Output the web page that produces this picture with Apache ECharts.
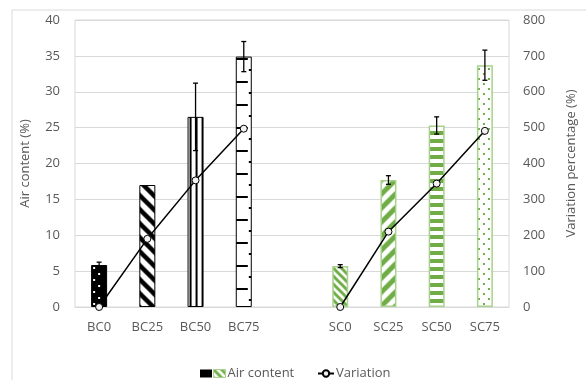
<!DOCTYPE html>
<html><head><meta charset="utf-8">
<script src="https://cdn.jsdelivr.net/npm/echarts@6/dist/echarts.min.js"></script>
<style>html,body{margin:0;padding:0;background:#fff}#c{width:586px;height:380px}</style>
</head><body><div id="c"></div>
<script>
// ---- data ----
const categories = ['BC0','BC25','BC50','BC75','','SC0','SC25','SC50','SC75'];
const bcCats = ['BC0','BC25','BC50','BC75'];
const scCats = ['SC0','SC25','SC50','SC75'];
const bcAir = [5.85, 17.0, 26.5, 34.9];
const scAir = [5.7, 17.7, 25.3, 33.7];
const bcErr = [0.4, 0, 4.7, 2.1];
const scErr = [0.2, 0.6, 1.2, 2.1];
const bcVariation = [0, 190, 353, 497];
const scVariation = [0, 210, 344, 491];
const leftTicks = {min:0, max:40, interval:5};
const rightTicks = {min:0, max:800, interval:100};

// ---- patterns ----
const GREEN = '#70ad47', GREEN_LIGHT = '#a9d18e';
function pat(w,h,fn){const c=document.createElement('canvas');c.width=w;c.height=h;const g=c.getContext('2d');g.fillStyle='#fff';g.fillRect(0,0,w,h);fn(g,w,h);return c;}
function diag(g,s,color,lw,up){g.strokeStyle=color;g.lineWidth=lw;g.lineCap='square';for(let k=-1;k<=1;k++){g.beginPath();if(up){g.moveTo(k*s,s);g.lineTo(k*s+s,0);}else{g.moveTo(k*s,0);g.lineTo(k*s+s,s);}g.stroke();}}
const patterns = [
  pat(16,12,(g)=>{g.fillStyle='#000';g.fillRect(0,0,16,12);g.fillStyle='#fff';g.fillRect(7,2,2,2);g.fillRect(2,8,2,2);}),
  pat(14,14,(g)=>diag(g,14,'#000',4.5,false)),
  pat(6,4,(g)=>{g.fillStyle='#000';g.fillRect(2,0,2,4);}),
  pat(16,23,(g)=>{g.fillStyle='#000';g.fillRect(0,4,12,2);g.fillRect(13,15,3,2);}),
  pat(8,8,(g)=>diag(g,8,GREEN,3,false)),
  pat(14,14,(g)=>diag(g,14,GREEN,5,true)),
  pat(16,8,(g)=>{g.fillStyle=GREEN;g.fillRect(0,0,16,4);}),
  pat(10,10,(g)=>{g.fillStyle=GREEN;g.fillRect(1,1,2,2);g.fillRect(6,6,2,2);})
];

const BW = 16;
const chart = echarts.init(document.getElementById('c'), null, {renderer:'canvas'});
const FONT = 'Open Sans';

function buildBars(offsets){
  const bc = categories.map(()=>null), sc = categories.map(()=>null);
  bcCats.forEach((c,i)=>{const idx=categories.indexOf(c);bc[idx]={value:bcAir[i],itemStyle:{color:{image:patterns[i],repeat:'repeat',x:offsets?offsets[idx].x:0,y:offsets?offsets[idx].y:0},borderColor:'#000',borderWidth:1}};});
  scCats.forEach((c,i)=>{const idx=categories.indexOf(c);sc[idx]={value:scAir[i],itemStyle:{color:{image:patterns[4+i],repeat:'repeat',x:offsets?offsets[idx].x:0,y:offsets?offsets[idx].y:0},borderColor:GREEN_LIGHT,borderWidth:1.5}};});
  return {bc, sc};
}
function lineData(){const d=categories.map(()=>null);bcCats.forEach((c,i)=>d[categories.indexOf(c)]=bcVariation[i]);scCats.forEach((c,i)=>d[categories.indexOf(c)]=scVariation[i]);return d;}
function errData(){const d=[];bcCats.forEach((c,i)=>d.push([c,bcAir[i],bcErr[i]]));scCats.forEach((c,i)=>d.push([c,scAir[i],scErr[i]]));return d;}

const bars0 = buildBars(null);
const option = {
  animation:false,
  textStyle:{fontFamily:FONT},
  graphic:[{type:'rect',shape:{x:12,y:10,width:600,height:400},style:{fill:'none',stroke:'#d9d9d9',lineWidth:1},silent:true,z:-1}],
  grid:{left:75,right:69,top:20,bottom:73,show:true,borderColor:'#d9d9d9',borderWidth:1},
  legend:[
    {left:195,top:362,itemGap:1,itemWidth:12,itemHeight:8,icon:'rect',
     formatter:(n)=>n==='BC air'?'':n,
     textStyle:{fontFamily:FONT,fontSize:13,color:'#595959',padding:[0,0,0,-3]},
     data:[{name:'BC air',itemStyle:{color:'#000',borderWidth:0}},{name:'Air content',itemStyle:{borderColor:GREEN_LIGHT,borderWidth:1}}]},
    {left:312,top:362,itemWidth:16,itemHeight:8,
     textStyle:{fontFamily:FONT,fontSize:13,color:'#595959',padding:[0,0,0,-3]},
     data:['Variation']}
  ],
  xAxis:{type:'category',data:categories,
    axisLine:{show:true,lineStyle:{color:'#d9d9d9'}},axisTick:{show:false},
    axisLabel:{color:'#595959',fontSize:13,fontFamily:FONT,margin:14,interval:0}},
  yAxis:[
    {type:'value',min:leftTicks.min,max:leftTicks.max,interval:leftTicks.interval,
     name:'Air content (%)',nameLocation:'middle',nameRotate:90,nameGap:43,
     nameTextStyle:{color:'#595959',fontSize:13,fontFamily:FONT},
     axisLine:{show:false},axisTick:{show:false},
     axisLabel:{color:'#595959',fontSize:13,fontFamily:FONT,margin:15},
     splitLine:{lineStyle:{color:'#d9d9d9',width:1}}},
    {type:'value',min:rightTicks.min,max:rightTicks.max,interval:rightTicks.interval,position:'right',
     name:'Variation percentage (%)',nameLocation:'middle',nameRotate:90,nameGap:56,
     nameTextStyle:{color:'#595959',fontSize:13,fontFamily:FONT},
     axisLine:{show:false},axisTick:{show:false},
     axisLabel:{color:'#595959',fontSize:13,fontFamily:FONT,margin:14},
     splitLine:{show:false}}
  ],
  series:[
    {name:'BC air',type:'bar',barWidth:BW,barGap:'-100%',data:bars0.bc,itemStyle:{color:'#000'},z:2},
    {name:'Air content',type:'bar',barWidth:BW,barGap:'-100%',data:bars0.sc,itemStyle:{color:{image:patterns[4],repeat:'repeat'}},z:2},
    {name:'err',type:'custom',z:3,data:errData(),encode:{x:0,y:1},
     renderItem:function(params,api){
       const e=api.value(2); if(!(e>0)) return null;
       const xi=api.value(0), v=api.value(1);
       const t=api.coord([xi,v+e]), b=api.coord([xi,v-e]);
       const cw=2.5, st={stroke:'#000',lineWidth:1.3};
       return {type:'group',children:[
         {type:'line',shape:{x1:t[0],y1:t[1],x2:b[0],y2:b[1]},style:st},
         {type:'line',shape:{x1:t[0]-cw,y1:t[1],x2:t[0]+cw,y2:t[1]},style:st},
         {type:'line',shape:{x1:b[0]-cw,y1:b[1],x2:b[0]+cw,y2:b[1]},style:st}
       ]};
     }},
    {name:'Variation',type:'line',yAxisIndex:1,data:lineData(),connectNulls:false,z:4,
     symbol:'circle',symbolSize:7,showSymbol:true,
     lineStyle:{color:'#000',width:1.5},
     itemStyle:{color:'#f2f2f2',borderColor:'#000',borderWidth:1}}
  ]
};
chart.setOption(option);
// align pattern origins with bar edges
const offsets = categories.map(c=>{
  if(!c) return {x:0,y:0};
  const px = chart.convertToPixel({xAxisIndex:0}, c);
  const py = chart.convertToPixel({yAxisIndex:0}, 0);
  return {x: px - BW/2, y: py};
});
const bars1 = buildBars(offsets);
chart.setOption({series:[{name:'BC air',data:bars1.bc},{name:'Air content',data:bars1.sc}]});
</script>
</body></html>
